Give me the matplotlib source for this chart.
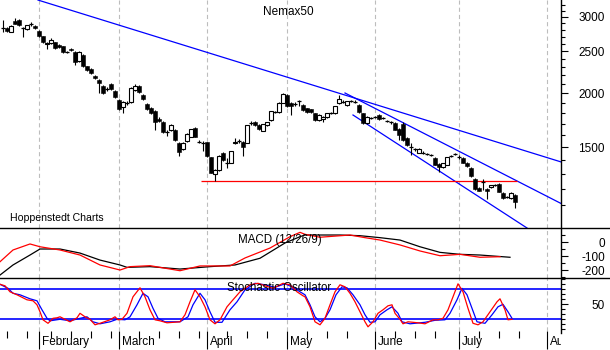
import numpy as np
import matplotlib
matplotlib.use('Agg')
import matplotlib.pyplot as plt
from matplotlib.lines import Line2D
from matplotlib.transforms import Bbox, TransformedBbox, blended_transform_factory

plt.rcParams['font.family'] = ['Liberation Sans', 'DejaVu Sans']
plt.rcParams['lines.scale_dashes'] = False

# daily candles (trading day index 0 = first bar)
opens = [2826, 2826, 2767, 2935, 2949, 2826, 2811, 2880, 2854, 2779,
         2706, 2594, 2608, 2621, 2582, 2567, 2487, 2530, 2487, 2371,
         2448, 2309, 2272, 2188, 2143, 2076, 2040, 2098, 2021, 1927,
         1857, 1900, 1907, 2032, 2076, 1979, 1887, 1846, 1815, 1740,
         1712, 1625, 1643, 1643, 1533, 1485, 1550, 1585, 1660, 1542,
         1530, 1540, 1420, 1299, 1328, 1452, 1380, 1380, 1533, 1550,
         1542, 1535, 1705, 1712, 1687, 1635, 1687, 1732, 1805, 1808,
         1900, 1980, 1897, 1890, 1918, 1876, 1846, 1836, 1797, 1732,
         1740, 1760, 1797, 1797, 1897, 1907, 1876, 1915, 1910, 1876,
         1797, 1705, 1750, 1760, 1779, 1750, 1722, 1712, 1705, 1650,
         1700, 1570, 1500, 1485, 1455, 1455, 1447, 1438, 1415, 1370,
         1348, 1364, 1430, 1447, 1425, 1415, 1378, 1343, 1266, 1207,
         1245, 1200, 1213, 1226, 1233, 1175, 1150, 1145, 1162]
highs = [2949, 2840, 2870, 2980, 2960, 2840, 2875, 2920, 2870, 2790,
         2715, 2620, 2680, 2630, 2595, 2575, 2500, 2540, 2495, 2495,
         2455, 2315, 2280, 2200, 2150, 2085, 2060, 2105, 2030, 1935,
         1915, 1920, 2060, 2100, 2085, 1990, 1895, 1855, 1825, 1760,
         1720, 1643, 1700, 1650, 1540, 1540, 1615, 1655, 1665, 1555,
         1550, 1545, 1425, 1335, 1435, 1460, 1415, 1470, 1570, 1565,
         1550, 1690, 1720, 1720, 1695, 1700, 1715, 1820, 1815, 1905,
         2000, 1990, 1905, 1910, 1930, 1885, 1850, 1840, 1800, 1785,
         1765, 1800, 1810, 1870, 1979, 1925, 1920, 1930, 1925, 1885,
         1800, 1765, 1760, 1770, 1785, 1760, 1730, 1722, 1712, 1660,
         1710, 1580, 1533, 1495, 1490, 1465, 1455, 1445, 1420, 1375,
         1380, 1425, 1440, 1455, 1440, 1420, 1382, 1348, 1270, 1212,
         1266, 1205, 1228, 1232, 1238, 1180, 1156, 1178, 1168]
lows = [2767, 2770, 2760, 2880, 2860, 2690, 2800, 2850, 2815, 2700,
        2610, 2527, 2600, 2530, 2545, 2480, 2475, 2505, 2321, 2360,
        2300, 2250, 2215, 2150, 2000, 1990, 2020, 2035, 1950, 1830,
        1797, 1880, 1900, 2025, 2000, 1930, 1830, 1790, 1643, 1715,
        1620, 1590, 1635, 1550, 1432, 1480, 1545, 1580, 1580, 1530,
        1470, 1425, 1305, 1252, 1320, 1395, 1345, 1375, 1525, 1530,
        1430, 1530, 1690, 1680, 1645, 1630, 1680, 1725, 1795, 1800,
        1895, 1855, 1779, 1870, 1870, 1820, 1800, 1800, 1725, 1725,
        1710, 1755, 1785, 1790, 1890, 1895, 1870, 1905, 1900, 1800,
        1700, 1700, 1740, 1750, 1735, 1740, 1712, 1700, 1640, 1558,
        1550, 1505, 1438, 1470, 1450, 1445, 1440, 1430, 1360, 1314,
        1340, 1360, 1420, 1440, 1410, 1375, 1350, 1280, 1195, 1185,
        1194, 1138, 1208, 1220, 1178, 1140, 1145, 1140, 1085]
closes = [2826, 2781, 2854, 2884, 2872, 2826, 2869, 2880, 2826, 2706,
          2621, 2608, 2649, 2540, 2554, 2487, 2487, 2514, 2358, 2487,
          2309, 2260, 2223, 2165, 2108, 2000, 2040, 2043, 1958, 1836,
          1907, 1900, 2054, 2076, 2010, 1937, 1836, 1797, 1712, 1725,
          1625, 1625, 1687, 1558, 1463, 1533, 1608, 1650, 1585, 1542,
          1530, 1430, 1310, 1330, 1431, 1400, 1380, 1467, 1542, 1550,
          1500, 1687, 1705, 1687, 1650, 1695, 1712, 1815, 1805, 1900,
          1990, 1862, 1862, 1890, 1918, 1827, 1808, 1808, 1732, 1779,
          1760, 1797, 1797, 1866, 1938, 1907, 1917, 1915, 1910, 1808,
          1705, 1760, 1750, 1760, 1740, 1750, 1722, 1712, 1643, 1600,
          1560, 1520, 1500, 1485, 1485, 1455, 1447, 1438, 1364, 1348,
          1378, 1423, 1430, 1447, 1425, 1378, 1357, 1286, 1200, 1188,
          1245, 1188, 1226, 1226, 1181, 1145, 1150, 1175, 1120]

# trend lines: (day, price) end points
long_trend = [(8.75, 3280), (139.5, 1386)]
channel_top = [(85.5, 2000), (139.5, 1111)]
channel_bottom = [(87.5, 1779), (131.0, 975)]
support_level = 1252
support_span = [49.5, 128.5]

# MACD (12/26/9)
macd_days = [-0.75, 2.5, 6.75, 9.25, 14.25, 19.25, 24.25, 29.25, 31.75, 36.75,
             44.25, 49.25, 56.75, 60.5, 66.75, 71.75, 74.25, 75.5, 79.25, 86.75,
             90.5, 94.25, 99.25, 104.25, 109.25, 114.25, 119.25, 124.25]
macd_vals = [-141, -57, -14, -34, -57, -93, -164, -200, -176, -169,
             -205, -171, -171, -114, -43, 38, 69, 55, 34, 50,
             31, 14, -21, -64, -98, -88, -109, -105]
signal_days = [-0.75, 2.5, 6.75, 9.25, 14.25, 19.25, 24.25, 29.25, 31, 36.75,
               44.25, 51.75, 58, 64.25, 70.5, 74.25, 75.5, 84.25, 89.25, 94.25,
               99.25, 104.25, 109.25, 114.25, 119.25, 126.75]
signal_vals = [-236, -164, -93, -50, -50, -79, -129, -164, -181, -176,
               -193, -176, -164, -116, -7, 38, 50, 50, 45, 31,
               14, -34, -74, -88, -93, -109]

# Stochastic oscillator
k_days = [-0.75, 0.5, 1.75, 3.5, 6, 7.5, 8.5, 9.25, 10, 11.25,
          12.5, 13.5, 14.25, 15.5, 16.75, 18.5, 19.25, 20.5, 21.75, 23,
          24.25, 26.75, 28, 28.75, 29.75, 31, 32.5, 34.25, 35.5, 36.75,
          38, 39.25, 41, 44.25, 45.5, 46.75, 48, 49.25, 50.5, 51.75,
          53, 54.25, 56, 57.5, 59.25, 61.75, 63.75, 65.5, 67.5, 70,
          71.75, 73.5, 75, 75.5, 76.75, 78, 79.25, 80.5, 81.75, 83,
          84.25, 85.5, 86.75, 88, 89.25, 90.5, 91.25, 92.5, 93.75, 95,
          96.25, 97.25, 98, 99.25, 100, 101.25, 103.75, 105.5, 107.5, 108.75,
          110, 111.25, 112.5, 113.75, 115, 116.25, 117.5, 118.75, 120, 121.75,
          123.5, 124.25, 125.5, 126.25, 127.25]
k_vals = [90, 87, 75, 69, 59, 57, 49, 35, 19, 12,
          22, 23, 25, 20, 15, 23, 32, 25, 20, 9,
          12, 19, 25, 19, 20, 32, 65, 83, 65, 39,
          19, 17, 13, 15, 29, 55, 79, 65, 45, 19,
          11, 19, 45, 59, 75, 89, 92, 87, 82, 92,
          89, 75, 67, 65, 45, 15, 9, 22, 49, 75,
          89, 85, 72, 55, 35, 15, 5, 15, 32, 39,
          47, 49, 32, 20, 11, 15, 13, 11, 19, 19,
          22, 39, 65, 91, 75, 42, 12, 9, 15, 35,
          55, 61, 39, 19, 20]
d_days = [-0.75, 1.25, 2.5, 4.25, 6.75, 8.5, 9.75, 11, 11.75, 14.25,
          16.75, 19.25, 21, 22.5, 24.25, 26.75, 28.5, 30.5, 31.75, 33.5,
          35, 36.25, 37.5, 38.75, 40.5, 44.25, 46.25, 47.5, 49.25, 50.5,
          51.75, 53, 54.75, 56.75, 58.5, 60.5, 63, 65.5, 68, 70.5,
          72.5, 74.25, 75.5, 76.75, 78, 79.25, 80.5, 81.75, 83.25, 84.75,
          86, 87.5, 89.25, 90.5, 91.75, 93, 94.25, 96, 97.25, 98.75,
          99.75, 101.75, 105.5, 108, 110.5, 111.75, 113.5, 114.75, 116, 117.25,
          118.5, 120.5, 122.25, 123.75, 125, 126.25, 127.25]
d_vals = [90, 82, 72, 69, 61, 57, 39, 22, 17, 20,
          17, 22, 25, 15, 11, 15, 20, 19, 25, 49,
          72, 65, 42, 22, 15, 15, 25, 49, 72, 59,
          35, 14, 14, 39, 55, 79, 92, 89, 84, 91,
          84, 75, 69, 49, 25, 15, 22, 39, 69, 85,
          83, 69, 49, 29, 14, 15, 29, 39, 45, 32,
          15, 11, 14, 18, 19, 32, 59, 82, 69, 42,
          15, 12, 29, 45, 50, 35, 22]

month_starts = [9, 29, 51, 71, 93, 114, 136]
month_names = ['February', 'March', 'April', 'May', 'June', 'July', 'August']
week_ticks = [1, 6, 12, 17, 22, 27, 34, 39, 44, 49, 56, 61, 66, 76, 81, 86,
              98, 103, 108, 119, 124, 129]

W, H = 610, 350
fig = plt.figure(figsize=(W / 100, H / 100), dpi=100)


def fx(px):
    return px / W


def fy(py):
    return 1 - py / H


ax = fig.add_axes([0, fy(228), fx(561), 228 / H])
ax_m = fig.add_axes([0, fy(278), fx(561), 50 / H], sharex=ax)
ax_s = fig.add_axes([0, fy(331), fx(561), 53 / H], sharex=ax)

# candles
o = np.array(opens, float)
hi = np.array(highs, float)
lo = np.array(lows, float)
c = np.array(closes, float)
days = np.arange(len(o))
up = c > o
dn = c < o
flat = c == o
ax.vlines(days, lo, hi, color='black', lw=0.8, zorder=3)
ax.bar(days[dn], (o - c)[dn], bottom=c[dn], width=0.8, color='black',
       edgecolor='black', lw=0.4, zorder=4)
ax.bar(days[up], (c - o)[up], bottom=o[up], width=0.8, facecolor='white',
       edgecolor='black', lw=0.8, zorder=4)
ax.hlines(c[flat], days[flat] - 0.45, days[flat] + 0.45, color='black', lw=0.9, zorder=4)

for seg in (long_trend, channel_top, channel_bottom):
    xs, ys = zip(*seg)
    ax.plot(xs, ys, color='#0000ff', lw=0.9, zorder=2)
ax.hlines(support_level, *support_span, color='#ff0000', lw=0.9, zorder=2)

ax.set_yscale('log')
ax.set_ylim(975, 3281)
ax.set_xlim(-0.75, 139.5)
ax.set_yticks([1500, 2000, 2500, 3000])
ax.set_yticklabels(['1500', '2000', '2500', '3000'])
ax.set_yticks([v for v in range(1000, 3300, 100) if v % 500], minor=True)
ax.yaxis.set_minor_formatter(plt.NullFormatter())

ax_m.plot(signal_days, signal_vals, color='black', lw=0.9)
ax_m.plot(macd_days, macd_vals, color='#ff0000', lw=0.9)
ax_m.set_ylim(-257, 100)
ax_m.set_yticks([0, -100, -200])
ax_m.set_yticklabels(['0', '-100', '-200'])
ax_m.set_yticks([50, -50, -150, -250], minor=True)

ax_s.axhline(80, color='#0000ff', lw=1.2)
ax_s.axhline(20, color='#0000ff', lw=1.2)
ax_s.plot(d_days, d_vals, color='#0000ff', lw=0.9)
ax_s.plot(k_days, k_vals, color='#ff0000', lw=0.9)
ax_s.set_ylim(-3.4, 102.6)
ax_s.set_yticks([50])
ax_s.set_yticklabels(['50'])
ax_s.set_yticks([v for v in range(0, 101, 10) if v != 50], minor=True)

for a in (ax, ax_m, ax_s):
    for s in a.spines.values():
        s.set_visible(False)
    a.set_facecolor('none')
    a.yaxis.tick_right()
    a.tick_params(axis='y', which='major', direction='out', length=5, width=0.8,
                  pad=26.5, labelsize=8.5)
    a.tick_params(axis='y', which='minor', direction='out', length=2.9, width=0.8)
    for t in a.get_yticklabels():
        t.set_horizontalalignment('right')
    for m in month_starts:
        a.axvline(m, color='#bdbdbd', lw=0.8, dashes=(3, 2.2), zorder=0)

ax.tick_params(axis='x', which='both', bottom=False, labelbottom=False)
ax_m.tick_params(axis='x', which='both', bottom=False, labelbottom=False)
ax_s.set_xticks(month_starts)
ax_s.set_xticks(week_ticks, minor=True)
ax_s.tick_params(axis='x', which='major', direction='out', length=13, width=0.8,
                 labelbottom=False)
ax_s.tick_params(axis='x', which='minor', direction='out', length=5, width=0.8)

clip = TransformedBbox(Bbox.from_extents(0, 0, fx(561), 1), fig.transFigure)
tr = blended_transform_factory(ax_s.transData, fig.transFigure)
for m, name in zip(month_starts, month_names):
    t = fig.text(m + 0.75, fy(342), name, transform=tr, fontsize=8.5,
                 ha='left', va='center')
    t.set_clip_box(clip)
    t.set_clip_on(True)

# panel frame lines
for yy in (228, 278):
    fig.add_artist(Line2D([0, 1], [fy(yy), fy(yy)], transform=fig.transFigure,
                          color='black', lw=1))
fig.add_artist(Line2D([fx(561), fx(561)], [fy(0), fy(333)], transform=fig.transFigure,
                      color='black', lw=1))

fig.text(fx(288), fy(12), 'Nemax50', fontsize=8.5, ha='center', va='center')
fig.text(fx(10), fy(218), 'Hoppenstedt Charts', fontsize=7.6, ha='left', va='center')
fig.text(fx(238), fy(240), 'MACD (12/26/9)', fontsize=8.3, ha='left', va='center')
fig.text(fx(227), fy(288), 'Stochastic Oscillator', fontsize=8.3, ha='left', va='center')

fig.savefig('out.png', dpi=100)
